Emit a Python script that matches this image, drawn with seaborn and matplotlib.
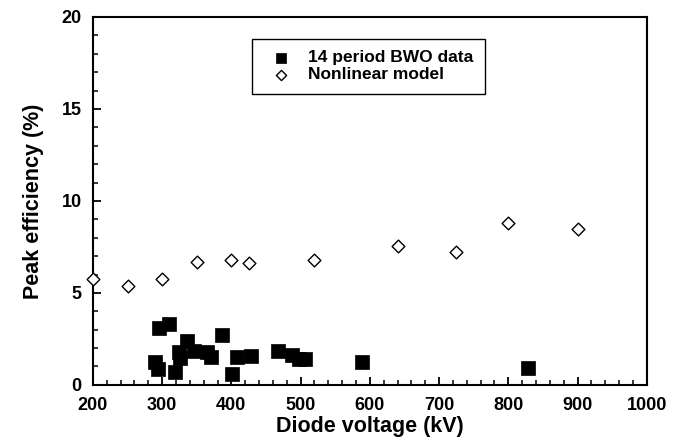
import matplotlib
matplotlib.use('Agg')
import matplotlib.pyplot as plt
import seaborn as sns
import pandas as pd
from matplotlib.ticker import MultipleLocator

# 14 period BWO measurements
bwo_voltage = [290, 294, 296, 310, 318, 325, 326, 336, 346, 365, 371,
               387, 401, 408, 428, 467, 487, 497, 506, 588, 828]
bwo_eff = [1.25, 0.87, 3.1, 3.3, 0.7, 1.8, 1.45, 2.4, 1.85, 1.77, 1.52,
           2.72, 0.6, 1.52, 1.55, 1.85, 1.63, 1.42, 1.42, 1.25, 0.92]

# nonlinear model
model_voltage = [200, 250, 300, 350, 400, 425, 520, 640, 725, 800, 900]
model_eff = [5.75, 5.4, 5.75, 6.68, 6.8, 6.63, 6.8, 7.55, 7.23, 8.8, 8.48]

sns.set_style('ticks')
plt.rcParams['font.family'] = ['Liberation Sans', 'DejaVu Sans']
for k in ['text.color', 'axes.labelcolor', 'xtick.color', 'ytick.color']:
    plt.rcParams[k] = 'black'

bwo = pd.DataFrame({'voltage': bwo_voltage, 'eff': bwo_eff})
model = pd.DataFrame({'voltage': model_voltage, 'eff': model_eff})

fig = plt.figure(figsize=(6.78, 4.47), dpi=100)
ax = fig.add_axes([0.137, 0.139, 0.817, 0.823])

sns.scatterplot(data=bwo, x='voltage', y='eff', ax=ax, marker='s', s=92,
                color='black', edgecolor='black', linewidth=0.5,
                label='14 period BWO data', clip_on=False, zorder=3)
sns.scatterplot(data=model, x='voltage', y='eff', ax=ax, marker='D', s=42,
                facecolor='white', edgecolor='black', linewidth=1.0,
                label='Nonlinear model', clip_on=False, zorder=3)

ax.set_xlim(200, 1000)
ax.set_ylim(0, 20)
ax.xaxis.set_major_locator(MultipleLocator(100))
ax.xaxis.set_minor_locator(MultipleLocator(20))
ax.yaxis.set_major_locator(MultipleLocator(5))
ax.yaxis.set_minor_locator(MultipleLocator(1))
ax.tick_params(which='major', direction='in', length=6, width=1.3,
               labelsize=13)
ax.tick_params(axis='x', which='major', pad=9)
ax.tick_params(axis='y', which='major', pad=8)
ax.tick_params(which='minor', direction='in', length=3.3, width=1.1)
for lab in ax.get_xticklabels() + ax.get_yticklabels():
    lab.set_fontweight('bold')
for sp in ax.spines.values():
    sp.set_linewidth(1.5)
    sp.set_color('black')

ax.set_xlabel('Diode voltage (kV)', fontsize=15.5, fontweight='bold', labelpad=1)
ax.set_ylabel('Peak efficiency (%)', fontsize=15.5, fontweight='bold', labelpad=13)

leg = ax.legend(loc='upper left', bbox_to_anchor=(0.287, 0.94), fancybox=False,
                framealpha=1, edgecolor='black', fontsize=12.5,
                borderpad=0.65, handlelength=2.0, handletextpad=0.6,
                labelspacing=0.1, borderaxespad=0, markerscale=0.8)
leg.get_frame().set_linewidth(1.0)
for t in leg.get_texts():
    t.set_fontweight('bold')

plt.savefig('out.png', dpi=100)
